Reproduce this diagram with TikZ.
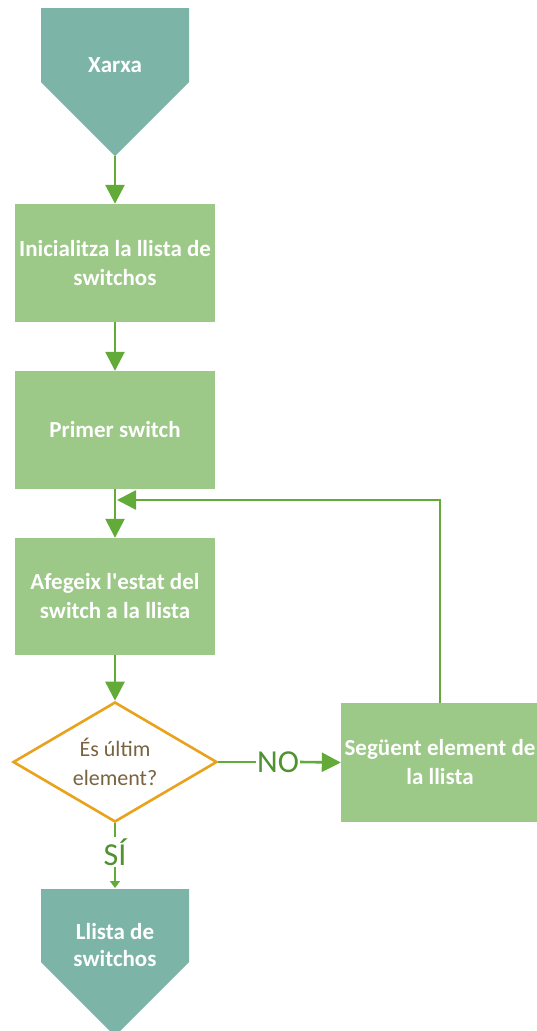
\documentclass[tikz,border=0pt]{standalone}
\usepackage{fontspec}
\setmainfont{Carlito}
\usetikzlibrary{shapes.geometric,arrows.meta}

\definecolor{offteal}{HTML}{7CB5A7}
\definecolor{boxgreen}{HTML}{9CC888}
\definecolor{flowgreen}{HTML}{62AB38}
\definecolor{decorange}{HTML}{E8A21C}
\definecolor{dectext}{HTML}{7A6340}
\definecolor{lblgreen}{HTML}{4F9230}

\tikzset{
  procbox/.style={rectangle, fill=boxgreen, minimum width=200pt, minimum height=118pt,
    text=white, align=center, font=\fontsize{23}{29}\selectfont\bfseries},
  decbox/.style={diamond, shape aspect=1.7, draw=decorange, line width=2.6pt, fill=white,
    minimum width=204pt, minimum height=120pt, inner sep=0pt,
    text=dectext, align=center, font=\fontsize{22}{29}\selectfont},
  offtext/.style={text=white, align=center, font=\fontsize{23}{27}\selectfont\bfseries},
  flow/.style={draw=flowgreen, line width=2.6pt, -{Triangle[width=19pt,length=19pt]}},
  flowline/.style={draw=flowgreen, line width=2.6pt},
  lbl/.style={text=lblgreen, inner sep=1pt, font=\fontsize{32}{32}\selectfont}
}

\begin{document}
\begin{tikzpicture}[x=1pt,y=-1pt]
  \useasboundingbox[fill=white] (0,0) rectangle (537,1031);

  % entrada
  \fill[offteal] (41,8) -- (189,8) -- (189,82) -- (115,156) -- (41,82) -- cycle;
  \node[offtext] (xarxa) at (115,65) {Xarxa};
  \coordinate (xarxatip) at (115,156);

  % passos
  \node[procbox] (init) at (115,263) {Inicialitza la llista de\\switchos};
  \node[procbox] (primer) at (115,430) {Primer switch};
  \node[procbox, minimum height=117pt] (afegeix) at (115,596.5) {Afegeix l\textquotesingle estat del\\switch a la llista};
  \node[decbox] (ultim) at (115,762) {És últim\\element?};
  \node[procbox, minimum width=198pt, minimum height=119pt] (seguent) at (440,762.5) {Següent element de\\la llista};

  % sortida
  \fill[offteal] (41,889) -- (189,889) -- (189,962) -- (115,1036) -- (41,962) -- cycle;
  \node[offtext] (llista) at (115,945) {Llista de\\switchos};
  \coordinate (llistatop) at (115,888);

  \node[lbl] (no) at (278,762) {NO};
  \node[lbl] (si) at (115,852) {SÍ};
  \coordinate (loopin) at (117,500);

  % fletxes
  \draw[flow] (xarxatip) -- (init.north);
  \draw[flow] (init.south) -- (primer.north);
  \draw[flow] (primer.south) -- (afegeix.north);
  \draw[flow] (afegeix.south) -- (ultim.north);
  \draw[flowline] (ultim.east) -- (no.west);
  \draw[flow] (no.east) -- (seguent.west);
  \draw[flow] (seguent.north) |- (loopin);
  \draw[flowline] (ultim.south) -- (si.north);
  \draw[flowline, line width=1.5pt, -{Triangle[width=10pt,length=7pt]}] (si.south) -- (llistatop);
\end{tikzpicture}
\end{document}
